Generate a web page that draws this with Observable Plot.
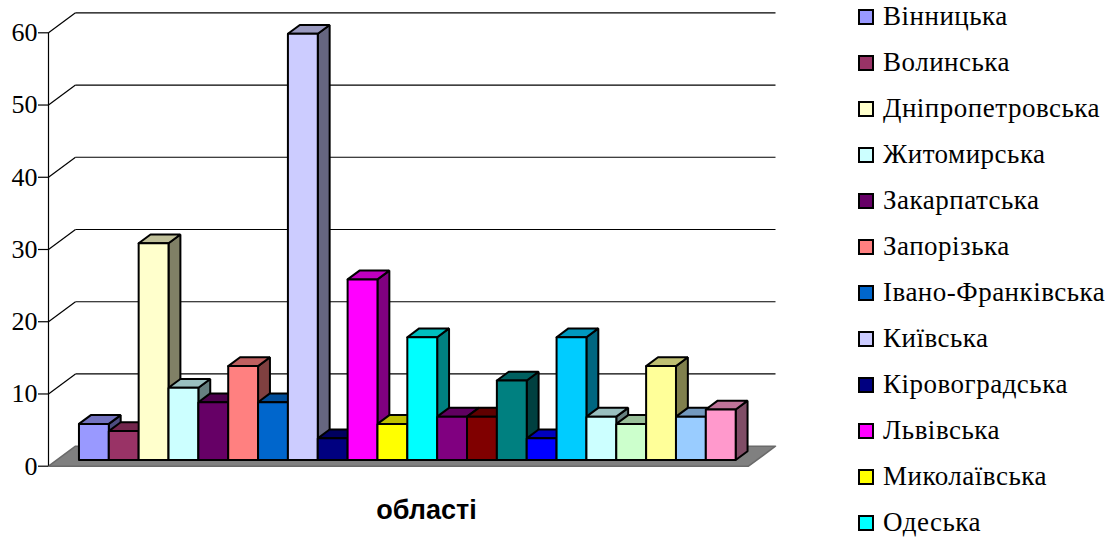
<!DOCTYPE html>
<html>
<head>
<meta charset="utf-8">
<script src="https://cdn.jsdelivr.net/npm/d3@7"></script>
<script src="https://cdn.jsdelivr.net/npm/@observablehq/plot@0.6"></script>
<style>
  html, body { margin: 0; padding: 0; background: #fff; overflow: hidden; width: 1116px; height: 538px; }
  #wrap { position: relative; width: 1116px; height: 538px; }
  #chart { position: absolute; left: 0; top: 0; }
  #legend { position: absolute; left: 858px; top: 0; font-family: "Liberation Serif", "DejaVu Serif", "Times New Roman", serif; font-size: 27px; letter-spacing: 0.5px; color: #000; }
  .item { position: absolute; left: 0; height: 30px; display: flex; align-items: center; white-space: nowrap; }
  .sw { width: 16px; height: 16px; box-sizing: border-box; border: 2px solid #000; margin-right: 9px; flex: none; }
</style>
</head>
<body>
<div id="wrap"><div id="chart"></div><div id="legend"></div></div>
<script>
const regions = ["Вінницька","Волинська","Дніпропетровська","Житомирська","Закарпатська","Запорізька","Івано-Франківська","Київська","Кіровоградська","Львівська","Миколаївська","Одеська","Полтавська","Рівненська","Сумська","Тернопільська","Харківська","Херсонська","Хмельницька","Черкаська","Чернівецька","Чернігівська"];
const values = [5,4,30,10,8,13,8,59,3,25,5,17,6,6,11,3,17,6,5,13,6,7];
const colors = ["#9999FF","#993366","#FFFFCC","#CCFFFF","#660066","#FF8080","#0066CC","#CCCCFF","#000080","#FF00FF","#FFFF00","#00FFFF","#800080","#800000","#008080","#0000FF","#00CCFF","#CCFFFF","#CCFFCC","#FFFF99","#99CCFF","#FF99CC"];
const yTicks = [0,10,20,30,40,50,60];
const xTitle = "області";

// 3D projection parameters (in scale units)
const floorW = 23.45;          // floor width in bar units
const pad = 0.74;              // gap before first bar
const depthX = 0.9045;         // full depth offset in x units
const depthY = 2.77;           // full depth offset in y units
const d0 = 0.31, d1 = 0.75;    // bar front / back depth

function shade(c, k) { const r = d3.rgb(c); return d3.rgb(r.r * k, r.g * k, r.b * k).formatHex(); }
const P = (x, y, d) => ({x: x + d * depthX, y: y + d * depthY});

const fronts = [], tops = [], sides = [];
values.forEach((v, i) => {
  const x0 = pad + i, x1 = x0 + 1, c = colors[i];
  const add = (arr, pts, fill) => pts.concat([pts[0]]).forEach(p => arr.push({...p, id: i, fill}));
  add(fronts, [P(x0, 0, d0), P(x1, 0, d0), P(x1, v, d0), P(x0, v, d0)], c);
  add(tops, [P(x0, v, d0), P(x1, v, d0), P(x1, v, d1), P(x0, v, d1)], shade(c, 0.75));
  add(sides, [P(x1, 0, d0), P(x1, 0, d1), P(x1, v, d1), P(x1, v, d0)], shade(c, 0.5));
});

const floor = [P(0, 0, 0), P(floorW, 0, 0), P(floorW, 0, 1), P(0, 0, 1), P(0, 0, 0)];
const gridTicks = yTicks.filter(t => t > 0);

const lineOpts = {x: "x", y: "y", z: "id", fill: "fill", stroke: "#000", strokeWidth: 2, strokeLinejoin: "miter", curve: "linear"};

const chart = Plot.plot({
  width: 850,
  height: 538,
  marginLeft: 48,
  marginRight: 102,
  marginTop: 32.3,
  marginBottom: 72.3,
  x: {domain: [0, floorW], axis: null},
  y: {domain: [0, 60], axis: null},
  color: {type: "identity"},
  style: {background: "white", overflow: "visible"},
  marks: [
    Plot.line(floor, {x: "x", y: "y", fill: "#808080", stroke: "#6a6a6a", strokeWidth: 1.5}),
    Plot.link(gridTicks, {x1: 0, y1: d => d, x2: depthX, y2: d => d + depthY, stroke: "#000", strokeWidth: 1.2}),
    Plot.link(gridTicks, {x1: depthX, y1: d => d + depthY, x2: floorW + depthX, y2: d => d + depthY, stroke: "#000", strokeWidth: 1.2}),
    Plot.ruleX([0], {y1: 0, y2: 60, stroke: "#000", strokeWidth: 1.2}),
    Plot.line(sides, lineOpts),
    Plot.line(tops, lineOpts),
    Plot.line(fronts, lineOpts),
    Plot.axisY({ticks: yTicks, label: null, tickSize: 10, tickPadding: 1, fontSize: 26, fontFamily: "'Liberation Serif', 'DejaVu Serif', 'Times New Roman', serif", stroke: "#000", strokeWidth: 1.2, color: "#000", tickFormat: d => String(d)}),
    Plot.text([xTitle], {frameAnchor: "bottom", dx: 28, dy: 52.5, lineAnchor: "bottom", fontSize: 27, fontWeight: "bold", fontFamily: "'Liberation Sans', Arial, sans-serif", fill: "#000"})
  ]
});
document.getElementById("chart").appendChild(chart);

// Legend: the reference shows only the entries that fit in the picture height
const legend = document.getElementById("legend");
const rowStep = 46, rowTop = 16.7 - 15, rowH = 30;
regions.forEach((name, i) => {
  const top = rowTop + rowStep * i;
  if (top + rowH > 538 + 4) return;
  const item = document.createElement("div");
  item.className = "item";
  item.style.top = top + "px";
  const sw = document.createElement("span");
  sw.className = "sw";
  sw.style.background = colors[i];
  const t = document.createElement("span");
  t.textContent = name;
  item.appendChild(sw); item.appendChild(t);
  legend.appendChild(item);
});
</script>
</body>
</html>
